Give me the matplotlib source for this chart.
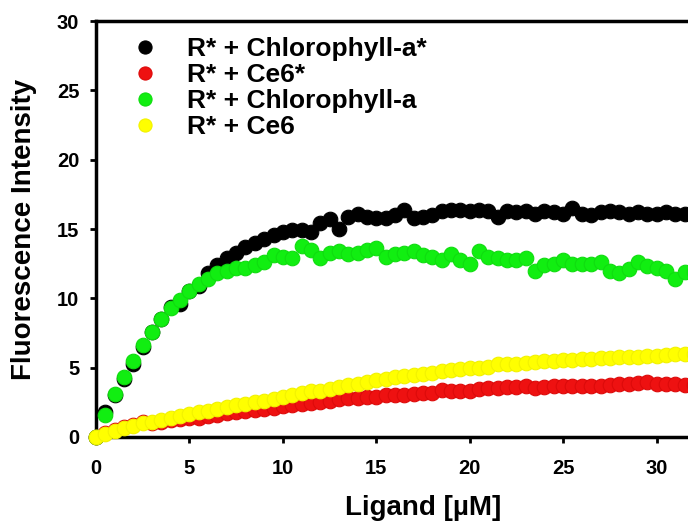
import matplotlib
matplotlib.use("Agg")
import matplotlib.pyplot as plt

plt.rcParams['font.family'] = ['Liberation Sans', 'DejaVu Sans']

# Ligand concentration (µM)
ligand = [0.0, 0.5, 1.0, 1.5, 2.0, 2.5, 3.0, 3.5, 4.0, 4.5, 5.0, 5.5, 6.0, 6.5,
          7.0, 7.5, 8.0, 8.5, 9.0, 9.5, 10.0, 10.5, 11.0, 11.5, 12.0, 12.5,
          13.0, 13.5, 14.0, 14.5, 15.0, 15.5, 16.0, 16.5, 17.0, 17.5, 18.0,
          18.5, 19.0, 19.5, 20.0, 20.5, 21.0, 21.5, 22.0, 22.5, 23.0, 23.5,
          24.0, 24.5, 25.0, 25.5, 26.0, 26.5, 27.0, 27.5, 28.0, 28.5, 29.0,
          29.5, 30.0, 30.5, 31.0, 31.5, 32.0]

chl_a_star = [0.0, 1.8, 3.0, 4.2, 5.3, 6.5, 7.6, 8.5, 9.4, 9.6, 10.5, 10.9,
              11.8, 12.4, 12.9, 13.3, 13.7, 14.0, 14.3, 14.6, 14.8, 14.9,
              14.9, 14.8, 15.4, 15.7, 15.0, 15.9, 16.1, 15.9, 15.8, 15.8,
              16.0, 16.4, 15.8, 15.9, 16.0, 16.3, 16.4, 16.4, 16.3, 16.4,
              16.3, 15.9, 16.3, 16.2, 16.3, 16.1, 16.3, 16.2, 16.1, 16.5,
              16.1, 16.0, 16.2, 16.3, 16.2, 16.1, 16.2, 16.1, 16.1, 16.2,
              16.1, 16.1, 16.1]

ce6_star = [0.0, 0.3, 0.5, 0.7, 0.9, 1.1, 1.0, 1.1, 1.2, 1.3, 1.35, 1.4,
            1.5, 1.6, 1.7, 1.8, 1.85, 1.95, 2.0, 2.1, 2.2, 2.3, 2.4, 2.45,
            2.5, 2.6, 2.75, 2.8, 2.8, 2.85, 2.9, 3.0, 3.0, 3.05, 3.1, 3.15,
            3.2, 3.4, 3.35, 3.3, 3.35, 3.45, 3.5, 3.5, 3.6, 3.6, 3.65, 3.55,
            3.6, 3.65, 3.7, 3.65, 3.7, 3.65, 3.7, 3.75, 3.8, 3.85, 3.9, 4.0,
            3.85, 3.8, 3.8, 3.75, 3.75]

chl_a = [0.0, 1.6, 3.1, 4.3, 5.5, 6.6, 7.6, 8.5, 9.3, 9.9, 10.5, 11.0, 11.4,
         11.8, 12.0, 12.2, 12.2, 12.4, 12.6, 13.1, 13.0, 12.9, 13.8, 13.5,
         12.9, 13.3, 13.4, 13.2, 13.3, 13.5, 13.6, 13.0, 13.2, 13.3, 13.4,
         13.1, 13.0, 12.8, 13.2, 12.8, 12.5, 13.4, 13.0, 12.9, 12.8, 12.8,
         12.9, 12.0, 12.4, 12.5, 12.8, 12.5, 12.5, 12.5, 12.6, 12.0, 11.8,
         12.1, 12.6, 12.3, 12.2, 12.0, 11.4, 11.9, 11.9]

ce6 = [0.0, 0.25, 0.45, 0.65, 0.8, 1.0, 1.1, 1.25, 1.4, 1.5, 1.65, 1.8, 1.9,
       2.05, 2.15, 2.3, 2.4, 2.5, 2.6, 2.75, 2.9, 3.05, 3.2, 3.3, 3.35, 3.45,
       3.6, 3.75, 3.85, 3.95, 4.1, 4.2, 4.3, 4.4, 4.5, 4.55, 4.65, 4.75,
       4.85, 4.9, 4.95, 5.0, 5.05, 5.3, 5.3, 5.3, 5.35, 5.4, 5.45, 5.5, 5.55,
       5.55, 5.6, 5.65, 5.7, 5.7, 5.75, 5.8, 5.8, 5.85, 5.85, 5.9, 5.95, 6.0,
       6.0]

series_labels = ["R* + Chlorophyll-a*", "R* + Ce6*", "R* + Chlorophyll-a", "R* + Ce6"]
series_values = [chl_a_star, ce6_star, chl_a, ce6]
series_colors = ["#000000", "#ee1111", "#11ee11", "#ffff00"]
series_edges = ["#000000", "#dd0a0a", "#0fdd0f", "#f2f200"]

x_ticks = [0, 5, 10, 15, 20, 25, 30]
y_ticks = [0, 5, 10, 15, 20, 25, 30]

fig = plt.figure(figsize=(6.88, 5.22), dpi=100)
ax = fig.add_axes([96 / 688, 85 / 522, 654 / 688, 416 / 522])

for vals, lab, col, edge in zip(series_values, series_labels, series_colors, series_edges):
    ax.plot(ligand, vals, linestyle="none", marker="o", markersize=10.5,
            markerfacecolor=col, markeredgecolor=edge, markeredgewidth=0.8,
            label=lab, clip_on=False, zorder=3)

ax.set_xlim(0, 35)
ax.set_ylim(0, 30)
ax.set_xticks(x_ticks)
ax.set_yticks(y_ticks)

for side in ["left", "bottom", "top"]:
    ax.spines[side].set_linewidth(2.5)
ax.spines["right"].set_visible(False)

ax.tick_params(axis="both", direction="out", length=4, width=2,
               labelsize=14.5, top=False, right=False)
ax.tick_params(axis="x", pad=12)
ax.tick_params(axis="y", pad=8)
for t in ax.get_xticklabels() + ax.get_yticklabels():
    t.set_fontweight("bold")

ax.set_xlabel("Ligand [µM]", fontsize=20, fontweight="bold", labelpad=12)
ax.set_ylabel("Fluorescence Intensity", fontsize=20, fontweight="bold", labelpad=14)

leg = ax.legend(loc="upper left", bbox_to_anchor=(38 / 654, 400 / 416),
                frameon=False, prop={"size": 19, "weight": "bold"},
                handlelength=0.8, handletextpad=1.2, labelspacing=0.08,
                borderpad=0, borderaxespad=0, markerscale=0.9)

fig.savefig("out.png", dpi=100)
